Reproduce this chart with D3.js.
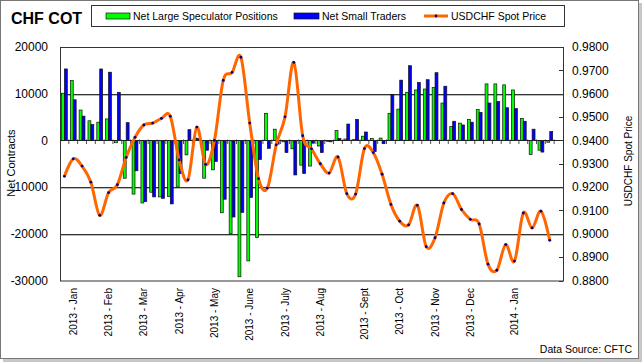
<!DOCTYPE html>
<html lang="en">
<head>
  <meta charset="UTF-8">
  <title>CHF COT</title>
  <script src="https://d3js.org/d3.v7.min.js"></script>
  <style>
    body { margin: 0; background: #fff; }
    text { font-family: Arial, "Liberation Sans", sans-serif; fill: #000; }
    .grid { stroke: #333; stroke-width: 1px; }
    .gridShadow { stroke: #bbb; stroke-width: 1px; }
  </style>
</head>
<body>
  <svg width="644" height="364"></svg>
  <script>
    // weekly COT data, Jan 2013 - Jan 2014
    const monthLabels = [
      [1, "2013 - Jan"], [5, "2013 - Feb"], [9, "2013 - Mar"], [13, "2013 - Apr"],
      [17, "2013 - May"], [21, "2013 - June"], [25, "2013 - July"], [29, "2013 - Aug"],
      [34, "2013 - Sept"], [38, "2013 - Oct"], [42, "2013 - Nov"], [46, "2013 - Dec"],
      [51, "2014 - Jan"]
    ];

    const speculators = [10100, 12800, 6500, 4200, 3900, 4600, -500, -8100, -11500, -13400,
      -11100, -12100, -12000, -10000, -3100, 500, -8100, -6300, -15500, -20000,
      -29200, -25800, -20800, 5800, 2400, -300, -1800, -5300, -5500, -1200,
      -200, 2100, 300, 200, 900, 400, 500, 5800, 6700, 10300,
      10800, 11000, 11300, 8000, 3000, 3700, 4500, 6600, 12100, 12100,
      11900, 10800, 4700, -3000, -2100, -400, null];

    const smallTraders = [15300, 8700, 5200, 3400, 15300, 14600, 10300, 3800, -6500, -13100,
      -12100, -12400, -13600, -7100, 2300, 400, -2100, -4500, -12600, -16400,
      -15400, -12200, -4100, -1700, -800, -2600, -7400, -7100, -600, -2600,
      -300, 400, 3500, 4500, 1800, -2400, -700, 9800, 12900, 16000,
      12400, 13000, 14500, 11600, 4100, 3300, 3900, 6000, 8000, 8300,
      7000, 6800, 4100, 2400, -2500, 1900, null];

    const usdchf = [0.9246, 0.9321, 0.9290, 0.9221, 0.9079, 0.9176, 0.9210, 0.9327, 0.9413, 0.9466,
      0.9474, 0.9494, 0.9503, 0.9316, 0.9231, 0.9457, 0.9297, 0.9400, 0.9657, 0.9691,
      0.9756, 0.9474, 0.9236, 0.9196, 0.9381, 0.9501, 0.9734, 0.9420, 0.9364, 0.9300,
      0.9260, 0.9329, 0.9172, 0.9170, 0.9365, 0.9348, 0.9255, 0.9126, 0.9054, 0.9038,
      0.9122, 0.8945, 0.8983, 0.9132, 0.9172, 0.9104, 0.9062, 0.9042, 0.8870, 0.8844,
      0.8954, 0.8883, 0.9089, 0.9025, 0.9097, 0.8972, null];

    const leftTicks = [20000, 10000, 0, -10000, -20000, -30000];
    const rightTicks = d3.range(0.88, 0.9801, 0.01);

    const svg = d3.select("svg");
    const plot = { left: 60, right: 563, top: 47, bottom: 280.5 };

    // outer frame with shadow
    svg.append("rect").attr("x", 3).attr("y", 3).attr("width", 639).attr("height", 359).attr("fill", "#c8c8c8");
    svg.append("rect").attr("x", 0.5).attr("y", 0.5).attr("width", 638).attr("height", 358)
      .attr("fill", "#fff").attr("stroke", "#777");

    const idx = d3.range(speculators.length);
    const x = d3.scaleBand().domain(idx).range([plot.left, plot.right]).paddingInner(0.34).paddingOuter(0.17);
    const step = x.step();
    const xSub = d3.scaleBand().domain(["spec", "small"]).range([0, x.bandwidth()]);
    const y = d3.scaleLinear().domain([-30000, 20000]).range([plot.bottom, plot.top]);
    const y2 = d3.scaleLinear().domain([0.88, 0.98]).range([plot.bottom, plot.top]);

    // gridlines
    const gridVals = [10000, -10000, -20000];
    svg.append("g").selectAll("line").data(gridVals).join("line")
      .attr("class", "gridShadow")
      .attr("x1", plot.left).attr("x2", plot.right)
      .attr("y1", d => Math.round(y(d)) + 1.5).attr("y2", d => Math.round(y(d)) + 1.5);
    svg.append("g").selectAll("line").data(gridVals).join("line")
      .attr("class", "grid")
      .attr("x1", plot.left).attr("x2", plot.right)
      .attr("y1", d => Math.round(y(d)) + 0.5).attr("y2", d => Math.round(y(d)) + 0.5);

    // plot border
    svg.append("rect")
      .attr("x", plot.left + 0.5).attr("y", plot.top + 0.5)
      .attr("width", plot.right - plot.left).attr("height", plot.bottom - plot.top)
      .attr("fill", "none").attr("stroke", "#333");

    // bars
    const bars = [];
    idx.forEach(i => {
      if (speculators[i] != null) bars.push({ i, key: "spec", v: speculators[i] });
      if (smallTraders[i] != null) bars.push({ i, key: "small", v: smallTraders[i] });
    });
    svg.append("g").selectAll("rect").data(bars).join("rect")
      .attr("x", d => x(d.i) + xSub(d.key))
      .attr("width", xSub.bandwidth())
      .attr("y", d => y(Math.max(0, d.v)))
      .attr("height", d => Math.abs(y(d.v) - y(0)))
      .attr("fill", d => d.key === "spec" ? "#00ff00" : "#0000ff")
      .attr("stroke", "#111").attr("stroke-width", 0.7);

    // zero line with category ticks
    const y0 = Math.round(y(0)) + 0.5;
    svg.append("line").attr("x1", plot.left).attr("x2", plot.right)
      .attr("y1", y0).attr("y2", y0).attr("stroke", "#222");
    svg.append("g").selectAll("line").data(d3.range(1, idx.length)).join("line")
      .attr("x1", d => plot.left + d * step).attr("x2", d => plot.left + d * step)
      .attr("y1", y0 - 1).attr("y2", y0 + 3.5)
      .attr("stroke", "#222").attr("stroke-width", 0.8);

    // price line
    const pts = idx.filter(i => usdchf[i] != null);
    const line = d3.line()
      .x(i => x(i) + x.bandwidth() / 2)
      .y(i => y2(usdchf[i]))
      .curve(d3.curveCardinal.tension(0));
    svg.append("path").datum(pts).attr("d", line)
      .attr("fill", "none").attr("stroke", "#ff6600").attr("stroke-width", 3)
      .attr("stroke-linejoin", "round");
    svg.append("g").selectAll("circle").data(pts).join("circle")
      .attr("cx", i => x(i) + x.bandwidth() / 2)
      .attr("cy", i => y2(usdchf[i]))
      .attr("r", 1.4).attr("fill", "#000080");

    // left axis labels
    svg.append("g").selectAll("text").data(leftTicks).join("text")
      .attr("x", 48).attr("y", d => y(d)).attr("dy", "0.36em")
      .attr("text-anchor", "end").attr("font-size", 12)
      .text(d => d);

    // right axis ticks + labels
    svg.append("g").selectAll("line").data(rightTicks).join("line")
      .attr("x1", plot.right - 4).attr("x2", plot.right)
      .attr("y1", d => Math.round(y2(d)) + 0.5).attr("y2", d => Math.round(y2(d)) + 0.5)
      .attr("stroke", "#333");
    svg.append("g").selectAll("text").data(rightTicks).join("text")
      .attr("x", 572).attr("y", d => y2(d)).attr("dy", "0.36em")
      .attr("font-size", 12)
      .text(d => d3.format(".4f")(d));

    // month labels
    svg.append("g").selectAll("text").data(monthLabels).join("text")
      .attr("transform", d => `translate(${x(d[0]) + x.bandwidth() / 2},288) rotate(-90)`)
      .attr("dy", "0.35em").attr("text-anchor", "end").attr("font-size", 10)
      .text(d => d[1]);

    // axis titles
    svg.append("text").attr("transform", "translate(11,163) rotate(-90)")
      .attr("text-anchor", "middle").attr("dy", "0.35em").attr("font-size", 11)
      .text("Net Contracts");
    svg.append("text").attr("transform", "translate(628,161) rotate(-90)")
      .attr("text-anchor", "middle").attr("dy", "0.35em").attr("font-size", 10)
      .text("USDCHF Spot Price");

    // title
    svg.append("text").attr("x", 11).attr("y", 24)
      .attr("font-size", 16).attr("font-weight", "bold").text("CHF COT");

    // legend
    const lg = svg.append("g");
    lg.append("rect").attr("x", 91.5).attr("y", 5.5).attr("width", 473).attr("height", 21)
      .attr("fill", "#fff").attr("stroke", "#333");
    lg.append("rect").attr("x", 106).attr("y", 13).attr("width", 24).attr("height", 6)
      .attr("fill", "#00ff00").attr("stroke", "#111").attr("stroke-width", 0.7);
    lg.append("text").attr("x", 133).attr("y", 19.5).attr("font-size", 10.5).text("Net Large Speculator Positions");
    lg.append("rect").attr("x", 294).attr("y", 13).attr("width", 25).attr("height", 6)
      .attr("fill", "#0000ff").attr("stroke", "#111").attr("stroke-width", 0.7);
    lg.append("text").attr("x", 322).attr("y", 19.5).attr("font-size", 10.5).text("Net Small Traders");
    lg.append("line").attr("x1", 424).attr("x2", 448).attr("y1", 16).attr("y2", 16)
      .attr("stroke", "#ff6600").attr("stroke-width", 3);
    lg.append("circle").attr("cx", 436).attr("cy", 16).attr("r", 1.4).attr("fill", "#000080");
    lg.append("text").attr("x", 451).attr("y", 19.5).attr("font-size", 10.5).text("USDCHF Spot Price");

    // source
    svg.append("text").attr("x", 632).attr("y", 353).attr("text-anchor", "end")
      .attr("font-size", 10.5).text("Data Source: CFTC");
  </script>
</body>
</html>
